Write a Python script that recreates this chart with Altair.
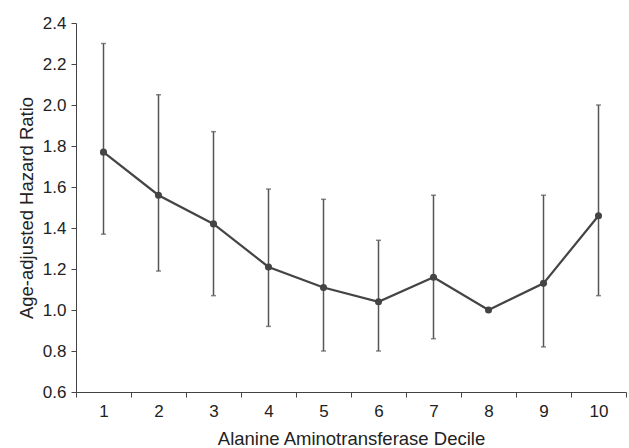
import altair as alt
import pandas as pd

deciles = [1, 2, 3, 4, 5, 6, 7, 8, 9, 10]
hazard = [1.77, 1.56, 1.42, 1.21, 1.11, 1.04, 1.16, 1.00, 1.13, 1.46]
upper = [2.30, 2.05, 1.87, 1.59, 1.54, 1.34, 1.56, None, 1.56, 2.00]
lower = [1.37, 1.19, 1.07, 0.92, 0.80, 0.80, 0.86, None, 0.82, 1.07]
y_ticks = [0.6, 0.8, 1.0, 1.2, 1.4, 1.6, 1.8, 2.0, 2.2, 2.4]

df = pd.DataFrame({"decile": deciles, "hr": hazard, "upper": upper, "lower": lower})
err = df.dropna()

FONT = "Liberation Sans"
x_enc = alt.X(
    "decile:O",
    title="Alanine Aminotransferase Decile",
    scale=alt.Scale(paddingInner=0, paddingOuter=0),
    axis=alt.Axis(
        labelAngle=0, tickBand="extent", tickSize=5, labelPadding=6,
        titlePadding=10, domainColor="#444", tickColor="#444",
        labelFontSize=17, titleFontSize=18.5, labelColor="#222", titleColor="#222",
        labelFont=FONT, titleFont=FONT, titleFontWeight="normal",
    ),
)
y_scale = alt.Scale(domain=[0.6, 2.4], nice=False, zero=False)
y_axis = alt.Axis(
    values=y_ticks, format=".1f", grid=False, tickSize=5, labelPadding=5,
    titlePadding=6, domainColor="#444", tickColor="#444",
    labelFontSize=17, titleFontSize=18.5, labelColor="#222", titleColor="#222",
    labelFont=FONT, titleFont=FONT, titleFontWeight="normal",
)

rules = alt.Chart(err).mark_rule(color="#555", strokeWidth=1.5).encode(
    x=x_enc,
    y=alt.Y("lower:Q", scale=y_scale, axis=y_axis, title="Age-adjusted Hazard Ratio"),
    y2="upper:Q",
)
cap_up = alt.Chart(err).mark_tick(color="#555", size=5, thickness=1.5).encode(
    x=x_enc, y=alt.Y("upper:Q", scale=y_scale)
)
cap_lo = alt.Chart(err).mark_tick(color="#555", size=5, thickness=1.5).encode(
    x=x_enc, y=alt.Y("lower:Q", scale=y_scale)
)
line = alt.Chart(df).mark_line(
    color="#444", strokeWidth=2.2,
    point=alt.OverlayMarkDef(filled=True, color="#444", size=50, opacity=1),
).encode(
    x=x_enc,
    y=alt.Y("hr:Q", scale=y_scale),
)

chart = alt.layer(rules, cap_up, cap_lo, line).properties(
    width=550, height=369,
    autosize=alt.AutoSizeParams(type="none"),
    padding={"left": 76, "top": 23, "right": 3, "bottom": 56},
    background="white",
).configure_view(stroke=None)

chart.save("out.html", embed_options={"renderer": "svg", "actions": False})
